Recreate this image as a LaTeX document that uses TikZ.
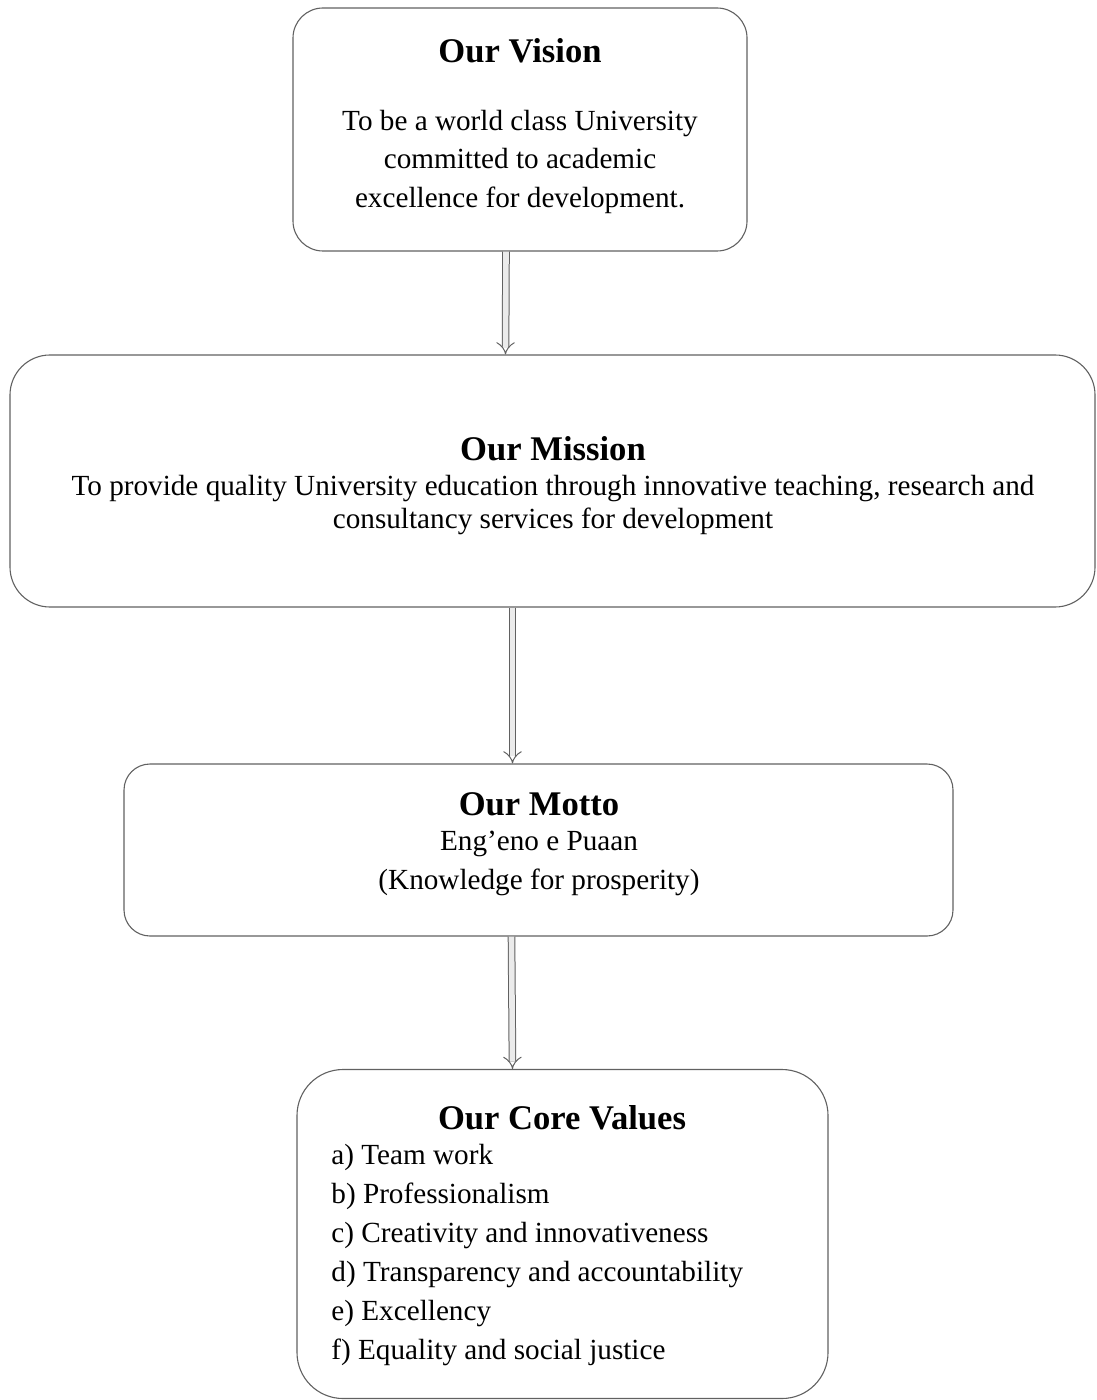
\documentclass[tikz,border=0pt]{standalone}
\usepackage{fontspec}
\setmainfont{Liberation Serif}
\usetikzlibrary{arrows.meta}
\begin{document}
\begin{tikzpicture}[x=0.5pt,y=-0.5pt,
  box/.style={draw=black!62, line width=0.55pt, inner sep=0pt},
  ttl/.style={font=\fontsize{17.3}{20}\selectfont\bfseries, inner sep=0pt, anchor=center, text height=0.7em, text depth=0.22em, yshift=-3.5pt},
  txt/.style={font=\fontsize{14.6}{19.5}\selectfont, inner sep=0pt, anchor=center, text height=0.7em, text depth=0.22em, yshift=-2.5pt},
  itm/.style={font=\fontsize{14.6}{19.5}\selectfont, inner sep=0pt, anchor=west, text height=0.7em, text depth=0.22em, yshift=-2.5pt},
  flow/.style={draw=black!62, line width=0.5pt, double=black!8, double distance=2.8pt, -{Implies}}]
\useasboundingbox (0,0) rectangle (1096,1400);
% boxes
\node[box, rounded corners=15pt, minimum width=227pt, minimum height=121.5pt] (vision) at (520,129.5) {};
\node[box, rounded corners=20pt, minimum width=542.5pt, minimum height=126pt] (mission) at (552.5,481) {};
\node[box, rounded corners=13pt, minimum width=414.5pt, minimum height=86pt] (motto) at (538.5,850) {};
\node[box, rounded corners=23pt, minimum width=265.5pt, minimum height=164.5pt] (core) at (562.5,1234) {};
% texts
\node[ttl] (vt) at (520,51) {Our Vision};
\node[txt] (v1) at (520,121) {To be a world class University};
\node[txt] (v2) at (520,159) {committed to academic};
\node[txt] (v3) at (520,198) {excellence for development.};
\node[ttl] (mt) at (553,449) {Our Mission};
\node[txt] (m1) at (553,486) {To provide quality University education through innovative teaching, research and};
\node[txt] (m2) at (553,519) {consultancy services for development};
\node[ttl] (ot) at (539,804) {Our Motto};
\node[txt] (o1) at (539,841) {Eng’eno e Puaan};
\node[txt] (o2) at (539,880) {(Knowledge for prosperity)};
\node[ttl] (ct) at (562,1118) {Our Core Values};
\node[itm] (c1) at (331,1155) {a) Team work};
\node[itm] (c2) at (331,1194) {b) Professionalism};
\node[itm] (c3) at (331,1233) {c) Creativity and innovativeness};
\node[itm] (c4) at (331,1272) {d) Transparency and accountability};
\node[itm] (c5) at (331,1311) {e) Excellency};
\node[itm] (c6) at (331,1350) {f) Equality and social justice};
% connectors
\draw[flow] ([xshift=-7pt]vision.south) -- ([xshift=-23.5pt]mission.north);
\draw[flow] ([xshift=-20pt]mission.south) -- ([xshift=-13pt]motto.north);
\draw[flow] ([xshift=-13.5pt]motto.south) -- ([xshift=-25pt]core.north);
\end{tikzpicture}
\end{document}
